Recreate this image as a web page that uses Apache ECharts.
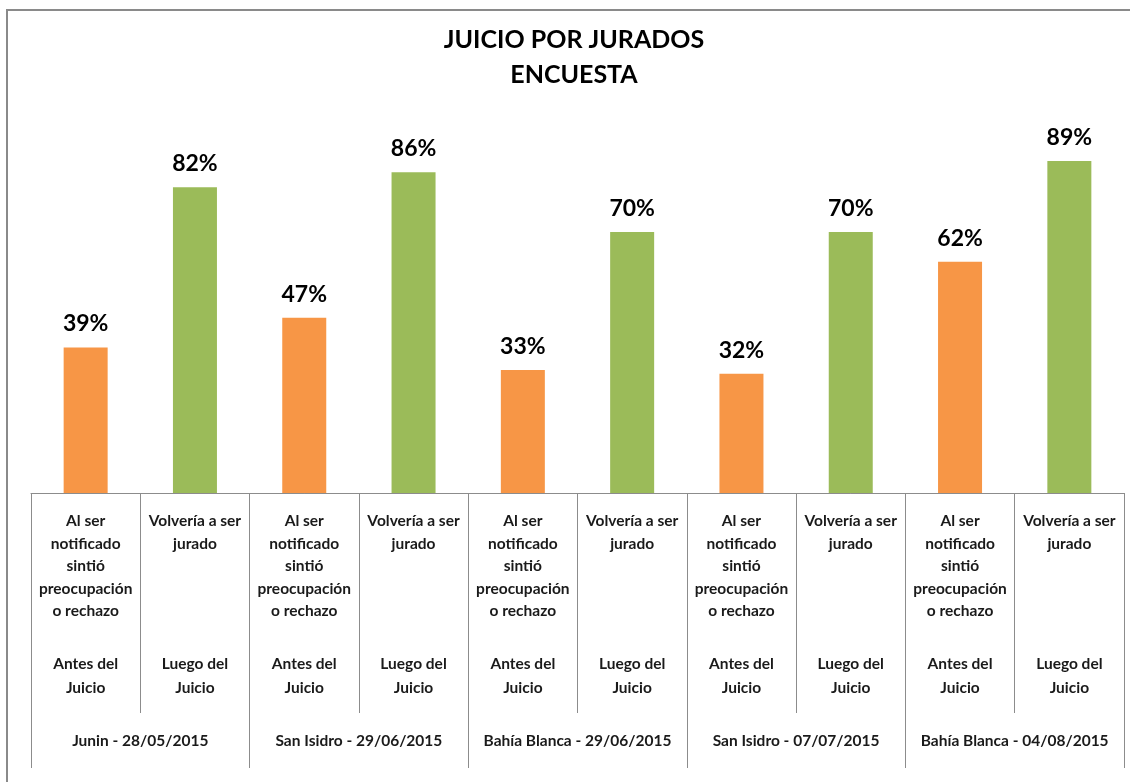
<!DOCTYPE html>
<html>
<head>
<meta charset="utf-8">
<script src="https://cdn.jsdelivr.net/npm/echarts@6/dist/echarts.min.js"></script>
<style>
  html, body { margin: 0; padding: 0; background: #fff; }
  #chart { width: 1130px; height: 782px; }
</style>
</head>
<body>
<div id="chart"></div>
<script>
// datos de la encuesta
const questions = [
  'Al ser\nnotificado\nsintió\npreocupación\no rechazo', 'Volvería a ser\njurado',
  'Al ser\nnotificado\nsintió\npreocupación\no rechazo', 'Volvería a ser\njurado',
  'Al ser\nnotificado\nsintió\npreocupación\no rechazo', 'Volvería a ser\njurado',
  'Al ser\nnotificado\nsintió\npreocupación\no rechazo', 'Volvería a ser\njurado',
  'Al ser\nnotificado\nsintió\npreocupación\no rechazo', 'Volvería a ser\njurado'
];
const moments = [
  'Antes del\nJuicio', 'Luego del\nJuicio',
  'Antes del\nJuicio', 'Luego del\nJuicio',
  'Antes del\nJuicio', 'Luego del\nJuicio',
  'Antes del\nJuicio', 'Luego del\nJuicio',
  'Antes del\nJuicio', 'Luego del\nJuicio'
];
const places = [
  'Junin - 28/05/2015',
  'San Isidro - 29/06/2015',
  'Bahía Blanca - 29/06/2015',
  'San Isidro - 07/07/2015',
  'Bahía Blanca - 04/08/2015'
];
const values = [39, 82, 47, 86, 33, 70, 32, 70, 62, 89];

const chart = echarts.init(document.getElementById('chart'));
const font = 'Lato, "Open Sans", sans-serif';
const gridLine = '#8c8c8c';

const option = {
  animation: false,
  textStyle: { fontFamily: font },
  // borde del área del gráfico (solo se ven arriba e izquierda)
  graphic: [{
    type: 'polyline',
    shape: { points: [[7, 782], [7, 10], [1130, 10]] },
    style: { fill: null, stroke: '#8a8a8a', lineWidth: 2 },
    silent: true
  }],
  title: {
    text: 'JUICIO POR JURADOS\nENCUESTA',
    left: 569,
    top: 17,
    textAlign: 'center',
    textStyle: {
      fontFamily: font,
      fontSize: 25,
      fontWeight: 'bold',
      color: '#000',
      lineHeight: 35
    }
  },
  grid: { left: 31, right: 6, top: 120, bottom: 289 },
  xAxis: [
    {
      type: 'category',
      position: 'bottom',
      data: questions,
      axisLine: { show: true, lineStyle: { color: gridLine, width: 1 } },
      axisTick: { show: true, interval: 0, length: 220, lineStyle: { color: gridLine, width: 1 } },
      axisLabel: {
        interval: 0, margin: 17, fontSize: 15.5, lineHeight: 22.5,
        fontWeight: 'bold', color: '#1a1a1a', fontFamily: font
      }
    },
    {
      type: 'category',
      position: 'bottom',
      data: moments,
      axisLine: { show: false },
      axisTick: { show: false },
      axisLabel: {
        interval: 0, margin: 159, fontSize: 15.5, lineHeight: 24,
        fontWeight: 'bold', color: '#1a1a1a', fontFamily: font
      }
    },
    {
      type: 'category',
      position: 'bottom',
      data: places,
      axisLine: { show: false },
      axisTick: { show: true, interval: 0, length: 275, lineStyle: { color: gridLine, width: 1 } },
      axisLabel: {
        interval: 0, margin: 238, fontSize: 15.5, lineHeight: 20,
        fontWeight: 'bold', color: '#1a1a1a', fontFamily: font
      }
    }
  ],
  yAxis: { type: 'value', min: 0, max: 100, show: false },
  series: [{
    type: 'bar',
    xAxisIndex: 0,
    barWidth: 44,
    data: values.map((v, i) => ({
      value: v,
      itemStyle: { color: moments[i].startsWith('Antes') ? '#F79646' : '#9BBB59' }
    })),
    label: {
      show: true,
      position: 'top',
      distance: 12,
      formatter: '{c}%',
      fontFamily: font,
      fontSize: 23,
      fontWeight: 'bold',
      color: '#000'
    }
  }]
};

chart.setOption(option);
</script>
</body>
</html>
